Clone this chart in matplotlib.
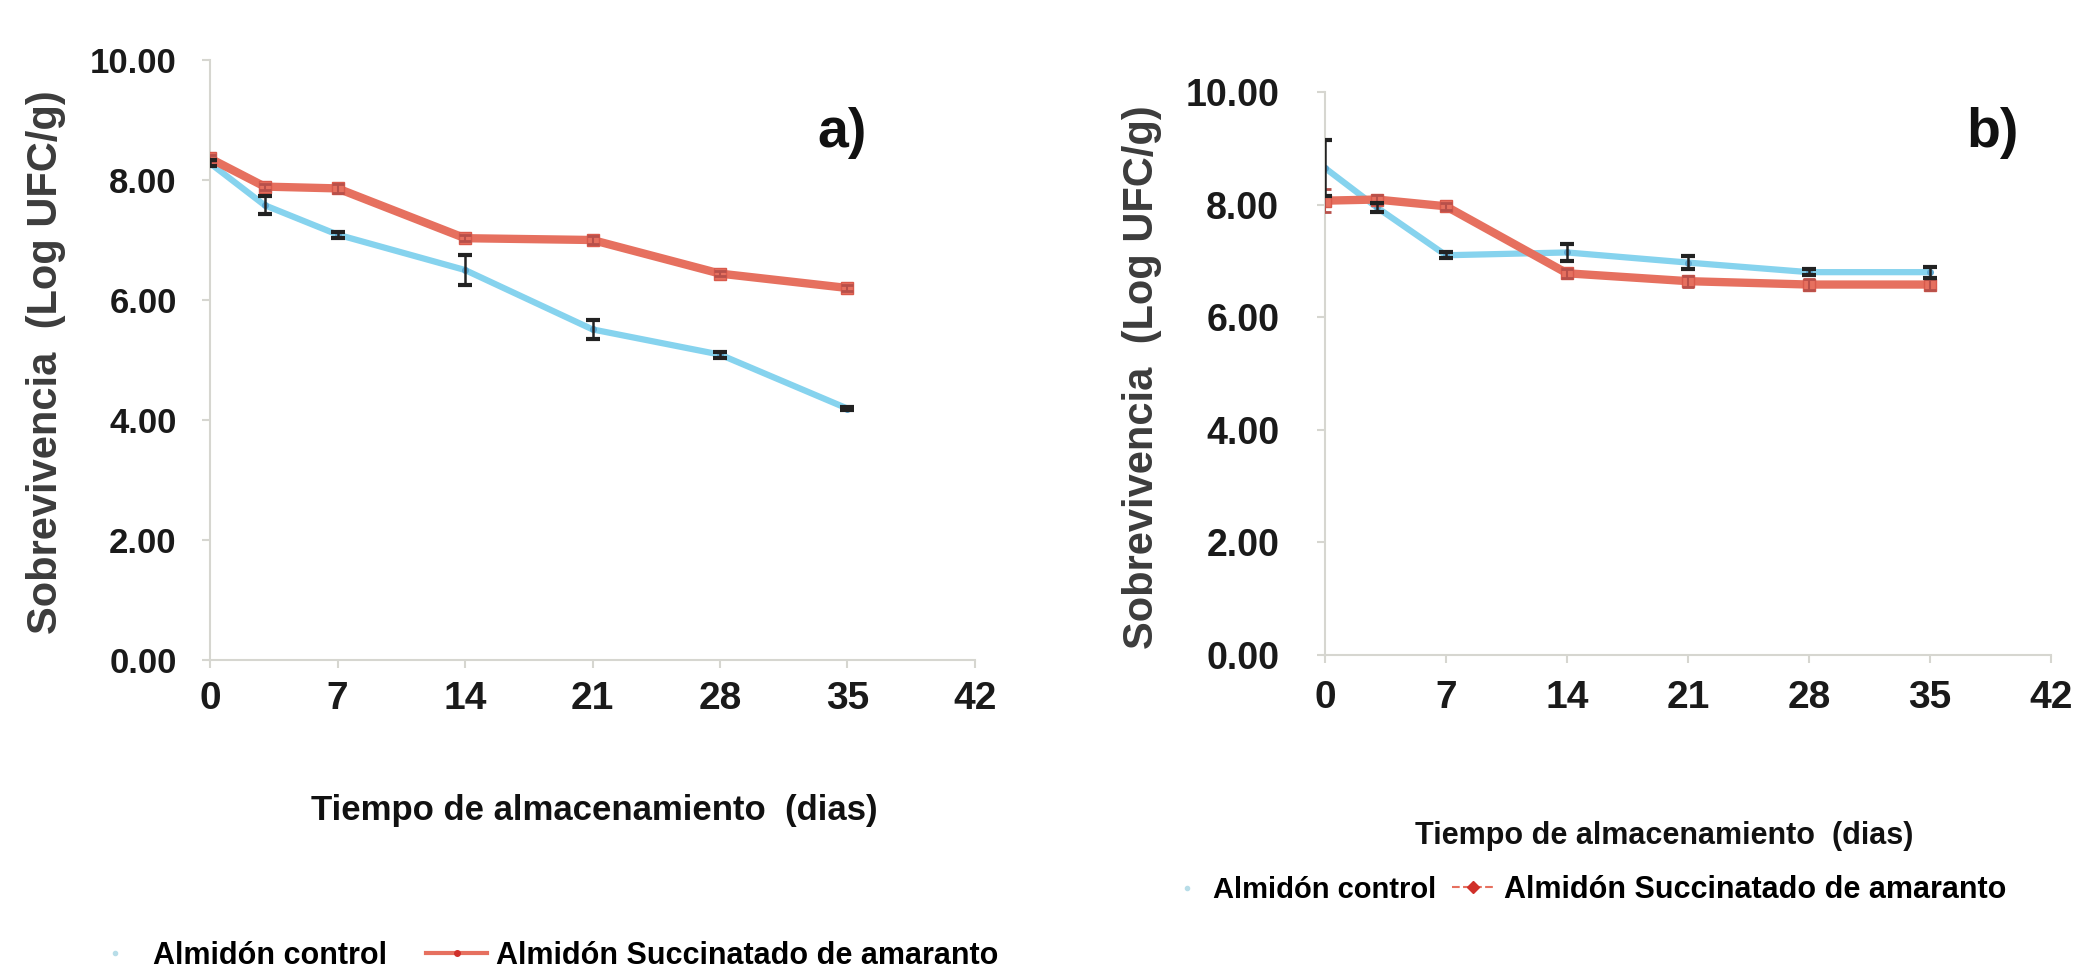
import matplotlib
matplotlib.use("Agg")
import matplotlib.pyplot as plt
from matplotlib.lines import Line2D

# ---------------- data ----------------
days = [0, 3, 7, 14, 21, 28, 35]
x_ticks = [0, 7, 14, 21, 28, 35, 42]
y_ticks = [0, 2, 4, 6, 8, 10]

a_control = [8.28, 7.58, 7.09, 6.50, 5.51, 5.09, 4.19]
a_control_err = [0.05, 0.15, 0.05, 0.25, 0.16, 0.05, 0.03]
a_succ = [8.36, 7.89, 7.86, 7.03, 7.00, 6.44, 6.20]
a_succ_err = [0.05, 0.05, 0.07, 0.05, 0.06, 0.04, 0.05]

b_control = [8.65, 7.95, 7.10, 7.15, 6.97, 6.80, 6.80]
b_control_err = [0.50, 0.08, 0.05, 0.15, 0.12, 0.05, 0.10]
b_succ = [8.07, 8.09, 7.97, 6.78, 6.64, 6.58, 6.58]
b_succ_err = [0.20, 0.08, 0.06, 0.08, 0.10, 0.10, 0.10]

label_control = "Almidón control"
label_succ = "Almidón Succinatado de amaranto"
xlabel = "Tiempo de almacenamiento  (dias)"
ylabel = "Sobrevivencia  (Log UFC/g)"
panel_labels = ["a)", "b)"]

# ---------------- style ----------------
FONT = ["Liberation Sans", "DejaVu Sans"]
BLUE = "#86d3ee"
BLUE_M = "#5fa9d3"
RED = "#e6705f"
SPINE = "#d6d6d0"
W, H = 2088, 980

fig = plt.figure(figsize=(20.88, 9.8), dpi=100)
fig.patch.set_facecolor("white")


def fx(px):
    return px / W


def fy(py):
    return 1 - py / H


# per panel layout (pixels): left, right, top, bottom
panels = [
    dict(l=210, r=975, t=60, b=660, ytick_size=25, ypad=18, xpad=9,
         lab_xy=(842, 133), xlab_xy=(594, 810), xlab_size=25,
         ylab_xy=(46, 362),
         leg=[(98, 956, 1.1, 0.7, 22), (426, 956, 2.0, 0.3, 22)]),
    dict(l=1325, r=2051, t=92, b=655, ytick_size=27, ypad=27, xpad=12,
         lab_xy=(1993, 133), xlab_xy=(1664, 836), xlab_size=22,
         ylab_xy=(1142, 377),
         leg=[(1172, 890, 1.0, 0.4, 21), (1452, 890, 1.4, 0.3, 22)]),
]
series = [
    (a_control, a_control_err, a_succ, a_succ_err),
    (b_control, b_control_err, b_succ, b_succ_err),
]

for i, (P, (ctl, ctl_e, suc, suc_e)) in enumerate(zip(panels, series)):
    ax = fig.add_axes([fx(P["l"]), fy(P["b"]), fx(P["r"] - P["l"]),
                       (P["b"] - P["t"]) / H])
    ax.set_xlim(0, 42)
    ax.set_ylim(0, 10)
    for s in ["top", "right"]:
        ax.spines[s].set_visible(False)
    for s in ["left", "bottom"]:
        ax.spines[s].set_color(SPINE)
        ax.spines[s].set_linewidth(1.5)

    # control series
    ax.plot(days, ctl, color=BLUE, lw=4.5, marker="o", ms=4,
            mfc=BLUE_M, mec=BLUE_M, zorder=3, solid_capstyle="round")
    ax.errorbar(days, ctl, yerr=ctl_e, fmt="none", ecolor="#222222",
                elinewidth=1.8, capsize=5, capthick=3, zorder=5)
    # succinate series
    ax.plot(days, suc, color=RED, lw=6, marker="s", ms=9,
            mfc=RED, mec="#d95a4c", zorder=4, solid_capstyle="round")
    ax.errorbar(days, suc, yerr=suc_e, fmt="none", ecolor="#b8504a",
                elinewidth=1.5, capsize=4, capthick=2, zorder=4)

    ax.set_xticks(x_ticks)
    ax.set_yticks(y_ticks)
    ax.set_xticklabels([str(t) for t in x_ticks])
    ax.set_yticklabels([f"{t:.2f}" for t in y_ticks])
    ax.tick_params(axis="both", color=SPINE, length=6, width=1.5, direction="out")
    ax.tick_params(axis="x", pad=P["xpad"])
    ax.tick_params(axis="y", pad=P["ypad"])
    for lab in ax.get_xticklabels():
        lab.set_fontfamily(FONT)
        lab.set_fontweight("bold")
        lab.set_fontsize(28)
        lab.set_color("#1a1a1a")
    for lab in ax.get_yticklabels():
        lab.set_fontfamily(FONT)
        lab.set_fontweight("bold")
        lab.set_fontsize(P["ytick_size"])
        lab.set_color("#1a1a1a")

    fig.text(fx(P["ylab_xy"][0]), fy(P["ylab_xy"][1]), ylabel, rotation=90,
             ha="center", va="center", fontfamily=FONT, fontweight="bold",
             fontsize=30, color="#3c3c3c")
    fig.text(fx(P["xlab_xy"][0]), fy(P["xlab_xy"][1]), xlabel,
             ha="center", va="center", fontfamily=FONT, fontweight="bold",
             fontsize=P["xlab_size"], color="#111111")
    fig.text(fx(P["lab_xy"][0]), fy(P["lab_xy"][1]), panel_labels[i],
             ha="center", va="center", fontfamily=FONT, fontweight="bold",
             fontsize=40, color="#111111")

    handles = [
        Line2D([], [], color=BLUE, lw=0, marker="o", ms=3,
               mfc="#b8dde8", mec="#b8dde8"),
        Line2D([], [], color=RED, lw=3 if i == 0 else 1.5,
               marker="o" if i == 0 else "D", ms=4 if i == 0 else 6,
               mfc="#d0302a", mec="#d0302a", ls="-" if i == 0 else "--"),
    ]
    for h, lbl, (lx, ly, hl, htp, fs) in zip(handles, [label_control, label_succ],
                                               P["leg"]):
        fig.legend([h], [lbl], loc="center left",
                   bbox_to_anchor=(fx(lx), fy(ly)), bbox_transform=fig.transFigure,
                   frameon=False, borderpad=0, borderaxespad=0,
                   handlelength=hl, handletextpad=htp,
                   prop={"family": FONT, "weight": "bold", "size": fs})

fig.savefig("out.png", dpi=100, facecolor="white")
